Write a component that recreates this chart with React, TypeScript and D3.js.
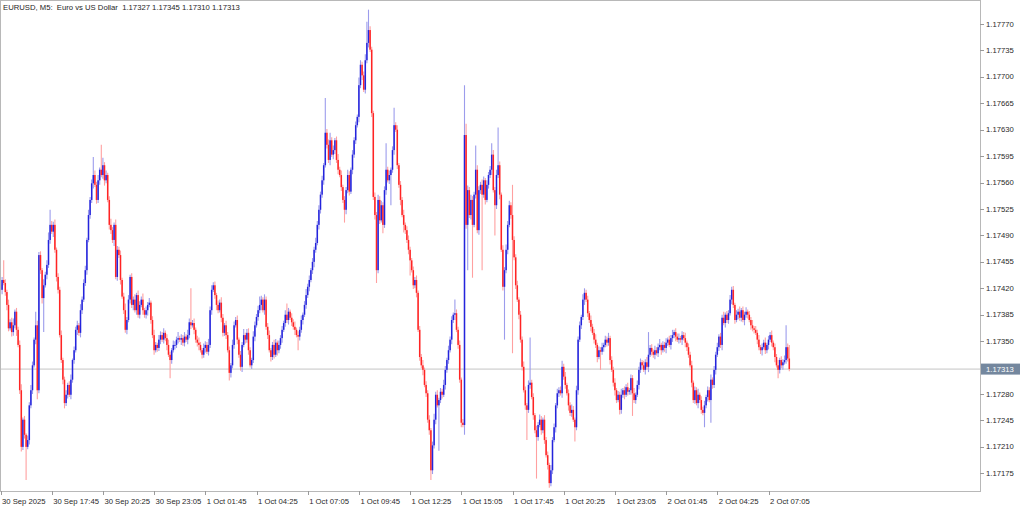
import React from 'react';
import * as d3 from 'd3';

// ---- Data (prices stored in points above BASE_PRICE; 1 point = 0.00001) ----
const SYMBOL_TITLE = 'EURUSD, M5:  Euro vs US Dollar';
const BASE_PRICE = 1.17;
const POINT = 0.00001;
const FIRST_OPEN_PTS = 425;

const CLOSE_PTS = [
  418,431,427,415,398,367,375,362,371,389,365,345,285,210,246,226,210,219,265,285,
  318,352,371,285,464,444,407,424,438,451,484,504,495,504,471,435,418,358,325,299,
  268,279,292,279,299,325,338,365,371,361,391,405,427,444,484,517,537,559,570,557,
  537,563,577,570,583,563,570,537,504,497,484,504,435,471,464,431,409,391,365,378,
  405,435,398,405,391,411,385,398,405,391,385,391,398,401,378,358,338,345,341,352,
  358,352,361,354,345,332,325,338,345,345,352,354,352,354,348,356,352,358,375,371,
  374,365,352,348,345,338,332,341,345,336,345,391,418,424,411,398,391,401,381,361,
  371,358,338,308,318,345,371,378,352,332,316,345,358,352,361,338,318,325,356,371,
  382,391,398,405,391,405,369,358,338,329,345,332,348,338,345,354,365,374,385,378,
  389,381,375,369,365,358,356,365,378,385,398,411,422,431,444,455,471,480,504,524,
  544,563,583,626,610,590,616,597,603,616,590,577,570,554,537,524,550,570,548,577,
  597,616,636,647,689,716,702,683,722,745,762,736,652,541,517,444,537,510,530,504,
  550,577,563,570,577,603,636,630,583,557,537,517,504,497,484,471,457,444,424,431,
  414,365,329,318,312,292,281,246,232,179,212,246,279,265,272,283,279,292,312,325,
  338,352,378,385,387,365,345,299,242,239,623,504,550,517,537,504,544,577,497,550,
  557,544,563,537,557,570,577,597,550,530,570,583,544,471,422,444,471,504,530,517,
  484,461,424,405,385,352,316,285,265,259,292,295,276,252,232,223,239,246,232,246,
  219,199,186,162,179,219,236,265,281,285,281,316,303,292,281,265,255,259,246,236,
  285,352,371,382,405,414,405,387,378,369,361,352,345,329,338,336,342,345,352,348,
  354,325,312,295,285,272,279,259,279,285,279,289,283,285,301,281,272,279,292,312,
  322,318,312,322,316,332,341,336,332,338,334,342,345,338,345,341,348,352,345,354,
  358,362,356,352,354,352,358,354,348,342,332,318,295,272,285,268,279,272,259,255,
  265,276,285,272,299,292,312,332,342,356,345,381,374,385,378,387,405,418,398,378,
  385,389,381,391,378,385,389,385,378,371,367,365,361,352,342,338,342,348,338,345,
  352,358,348,342,329,318,312,325,318,322,325,342,327,313,
];

const UPPER_WICK_PTS = [
  6,4,26,5,3,7,4,6,9,3,5,4,6,8,3,5,2,6,4,7,
  5,3,18,6,4,5,3,8,4,6,10,20,5,4,7,3,5,4,6,3,
  4,6,3,5,7,2,5,4,6,3,8,4,5,6,3,7,4,5,24,6,
  4,7,3,33,10,4,6,3,5,8,4,3,7,5,4,6,3,5,9,4,
  6,3,5,4,7,3,6,5,4,8,3,5,4,6,3,5,7,4,3,6,
  5,4,6,3,5,7,4,3,6,5,4,8,3,5,4,6,3,7,5,45,
  4,6,3,5,7,4,3,6,5,4,8,5,6,4,5,3,6,4,7,5,
  3,6,4,5,3,7,5,4,6,3,5,4,8,3,5,6,4,3,7,5,
  4,6,11,5,3,7,4,5,6,3,4,7,5,3,6,4,5,3,6,15,
  5,3,6,4,7,3,5,4,6,3,5,8,4,6,3,5,4,7,5,6,
  4,6,3,46,5,7,10,4,6,3,5,8,4,6,3,5,4,7,5,3,
  6,4,5,3,10,6,4,5,8,28,27,5,4,3,6,4,7,5,6,4,
  5,35,4,6,3,5,23,4,6,3,5,4,7,3,5,6,4,3,5,4,
  6,3,5,4,7,3,5,4,6,3,5,8,4,6,3,5,4,7,5,3,
  6,4,5,3,18,5,4,6,3,5,66,15,6,4,7,5,4,32,6,5,
  4,7,5,3,6,4,5,15,6,4,7,50,5,3,6,4,7,5,6,4,
  40,5,4,6,3,5,4,7,5,3,6,60,4,5,3,6,4,7,5,3,
  6,4,5,3,7,4,5,3,6,4,5,8,4,6,3,5,4,7,5,3,
  6,4,5,3,7,6,4,5,3,6,4,5,7,3,5,4,6,3,5,4,
  7,3,5,4,6,3,5,4,8,3,5,4,6,3,5,4,7,3,6,4,
  5,3,6,4,7,30,4,5,3,6,4,5,8,3,5,4,6,3,5,4,
  7,3,5,4,6,3,5,4,7,3,5,4,6,3,5,4,8,3,5,4,
  6,3,5,4,7,3,5,4,6,3,5,4,8,3,5,4,6,4,5,3,
  6,4,7,3,5,4,6,3,5,4,7,3,5,4,6,3,5,4,7,3,
  5,4,6,3,5,4,7,3,5,4,6,29,5,18,
];

const LOWER_WICK_PTS = [
  4,6,3,5,7,4,3,6,5,4,8,3,5,6,4,5,44,3,6,4,
  5,3,6,12,4,5,7,45,3,6,4,5,3,7,4,6,5,3,4,6,
  7,4,5,3,6,4,5,3,7,4,6,5,3,4,6,3,5,4,7,3,
  5,4,6,3,5,7,4,3,6,5,4,8,3,5,4,6,3,5,4,6,
  3,5,4,7,3,6,4,5,3,6,4,5,7,3,5,4,6,3,5,4,
  6,3,5,4,7,3,24,5,3,6,4,5,3,7,4,5,3,6,4,5,
  3,6,4,5,7,3,5,4,6,3,5,4,6,3,5,7,4,3,6,5,
  4,5,3,10,6,4,5,3,6,4,5,7,3,5,4,6,3,5,4,6,
  3,5,4,7,3,6,4,5,3,6,4,5,3,7,4,5,6,3,5,4,
  6,3,5,4,7,3,18,5,4,6,3,5,4,6,3,5,7,4,3,6,
  5,4,6,3,5,4,7,3,6,5,4,6,3,5,4,17,6,4,5,3,
  6,4,5,3,7,4,6,3,5,4,6,3,5,4,6,17,4,5,3,11,
  4,6,3,5,40,4,6,3,5,4,7,3,10,5,4,6,20,3,5,4,
  6,3,5,4,7,3,5,4,6,13,5,4,6,3,60,4,5,3,6,4,
  5,3,6,4,7,3,5,4,6,3,13,5,60,4,6,70,3,5,4,6,
  5,100,4,6,3,5,4,7,3,40,5,4,6,3,5,70,4,6,3,5,
  150,4,5,3,6,4,5,3,6,40,4,5,3,6,4,55,5,3,6,4,
  5,3,6,6,4,5,3,7,4,5,3,6,4,5,3,7,4,5,3,19,
  4,6,3,5,4,7,3,5,4,6,3,5,4,7,3,24,4,6,3,5,
  4,6,3,5,7,4,3,6,5,4,6,3,5,4,6,30,4,5,3,6,
  4,5,3,6,4,7,3,5,4,6,3,5,4,6,3,5,7,4,3,6,
  5,4,6,3,5,4,7,3,6,5,4,3,6,4,5,3,7,4,5,3,
  19,4,6,3,30,5,4,6,3,5,4,7,3,6,4,5,3,6,4,5,
  3,6,4,5,3,7,4,5,3,6,4,5,3,6,4,5,7,3,5,4,
  6,3,5,4,7,3,11,5,4,6,3,5,4,3,
];

const PRICE_TICKS = [
  1.17770, 1.17735, 1.17700, 1.17665, 1.17630, 1.17595, 1.17560, 1.17525, 1.17490,
  1.17455, 1.17420, 1.17385, 1.17350, 1.17280, 1.17245, 1.17210, 1.17175,
];

const TIME_LABELS = [
  '30 Sep 2025', '30 Sep 17:45', '30 Sep 20:25', '30 Sep 23:05', '1 Oct 01:45',
  '1 Oct 04:25', '1 Oct 07:05', '1 Oct 09:45', '1 Oct 12:25', '1 Oct 15:05',
  '1 Oct 17:45', '1 Oct 20:25', '1 Oct 23:05', '2 Oct 01:45', '2 Oct 04:25',
  '2 Oct 07:05',
];
const BARS_PER_LABEL = 32;

// ---- Chart ----
const W = 1024;
const H = 511;
const PLOT_RIGHT = 980;
const PLOT_BOTTOM = 491;
const BAR_STEP = 1.6;
const FONT = '"Liberation Sans", Arial, sans-serif';
const FONT_SIZE = 7.7;

const UP_BODY = '#2424dc';
const UP_WICK = '#9c9cec';
const DN_BODY = '#ff2424';
const DN_WICK = '#ffa0a0';

export default function App() {
  const toPrice = (p: number) => BASE_PRICE + p * POINT;
  const n = CLOSE_PTS.length;
  const bars = CLOSE_PTS.map((c, i) => {
    const o = i === 0 ? FIRST_OPEN_PTS : CLOSE_PTS[i - 1];
    const h = Math.max(o, c) + UPPER_WICK_PTS[i];
    const l = Math.min(o, c) - LOWER_WICK_PTS[i];
    return { i, open: toPrice(o), high: toPrice(h), low: toPrice(l), close: toPrice(c) };
  });
  const last = bars[n - 1];

  const x = d3.scaleLinear().domain([0, n - 1]).range([0.5, 0.5 + (n - 1) * BAR_STEP]);
  const y = d3.scaleLinear().domain([1.17175, 1.1777]).range([473.3, 24]);
  const fmt = d3.format('.5f');

  const bidY = y(last.close);
  const title = `${SYMBOL_TITLE}  ${fmt(last.open)} ${fmt(last.high)} ${fmt(last.low)} ${fmt(last.close)}`;

  return (
    <svg
      width={W}
      height={H}
      style={{ position: 'absolute', left: 0, top: 0, background: '#ffffff' }}
      fontFamily={FONT}
    >
      <rect x={0} y={0} width={W} height={H} fill="#ffffff" />
      {/* bid line */}
      <line x1={0} x2={PLOT_RIGHT} y1={bidY} y2={bidY} stroke="#c4c4c4" strokeWidth={1} />
      {/* candle wicks */}
      <g>
        {bars.map((b) => (
          <line
            key={'w' + b.i}
            x1={x(b.i)}
            x2={x(b.i)}
            y1={y(b.high)}
            y2={y(b.low)}
            stroke={b.close >= b.open ? UP_WICK : DN_WICK}
            strokeWidth={1.1}
          />
        ))}
      </g>
      {/* candle bodies */}
      <g>
        {bars.map((b) => {
          const up = b.close >= b.open;
          const yTop = y(Math.max(b.open, b.close));
          const yBot = y(Math.min(b.open, b.close));
          return (
            <rect
              key={'b' + b.i}
              x={x(b.i) - 0.75}
              y={yTop}
              width={1.5}
              height={Math.max(0.9, yBot - yTop)}
              fill={up ? UP_BODY : DN_BODY}
            />
          );
        })}
      </g>
      {/* frame */}
      <rect x={0.5} y={0.5} width={PLOT_RIGHT} height={PLOT_BOTTOM} fill="none" stroke="#b8b8b8" strokeWidth={1} />
      {/* right axis */}
      <g fontSize={FONT_SIZE} fill="#2a2a2a">
        {PRICE_TICKS.map((p) => (
          <g key={p}>
            <line x1={PLOT_RIGHT} x2={PLOT_RIGHT + 4} y1={Math.round(y(p)) + 0.5} y2={Math.round(y(p)) + 0.5} stroke="#9a9a9a" />
            <text x={PLOT_RIGHT + 6} y={y(p)} dominantBaseline="central">
              {fmt(p)}
            </text>
          </g>
        ))}
      </g>
      {/* bid label */}
      <rect x={PLOT_RIGHT + 1} y={bidY - 5.5} width={39} height={11} fill="#74879e" />
      <text x={PLOT_RIGHT + 6} y={bidY} dominantBaseline="central" fontSize={FONT_SIZE} fill="#ffffff">
        {fmt(last.close)}
      </text>
      {/* bottom axis */}
      <g fontSize={FONT_SIZE} fill="#2a2a2a">
        {TIME_LABELS.map((lab, k) => {
          const tx = x(k * BARS_PER_LABEL);
          return (
            <g key={lab}>
              <line x1={Math.round(tx) + 0.5} x2={Math.round(tx) + 0.5} y1={PLOT_BOTTOM} y2={PLOT_BOTTOM + 4} stroke="#9a9a9a" />
              <text x={tx + 1.5} y={PLOT_BOTTOM + 13}>
                {lab}
              </text>
            </g>
          );
        })}
      </g>
      {/* title */}
      <text x={3} y={10} fontSize={FONT_SIZE} fill="#1e1e1e" style={{ whiteSpace: 'pre' }}>
        {title}
      </text>
    </svg>
  );
}
